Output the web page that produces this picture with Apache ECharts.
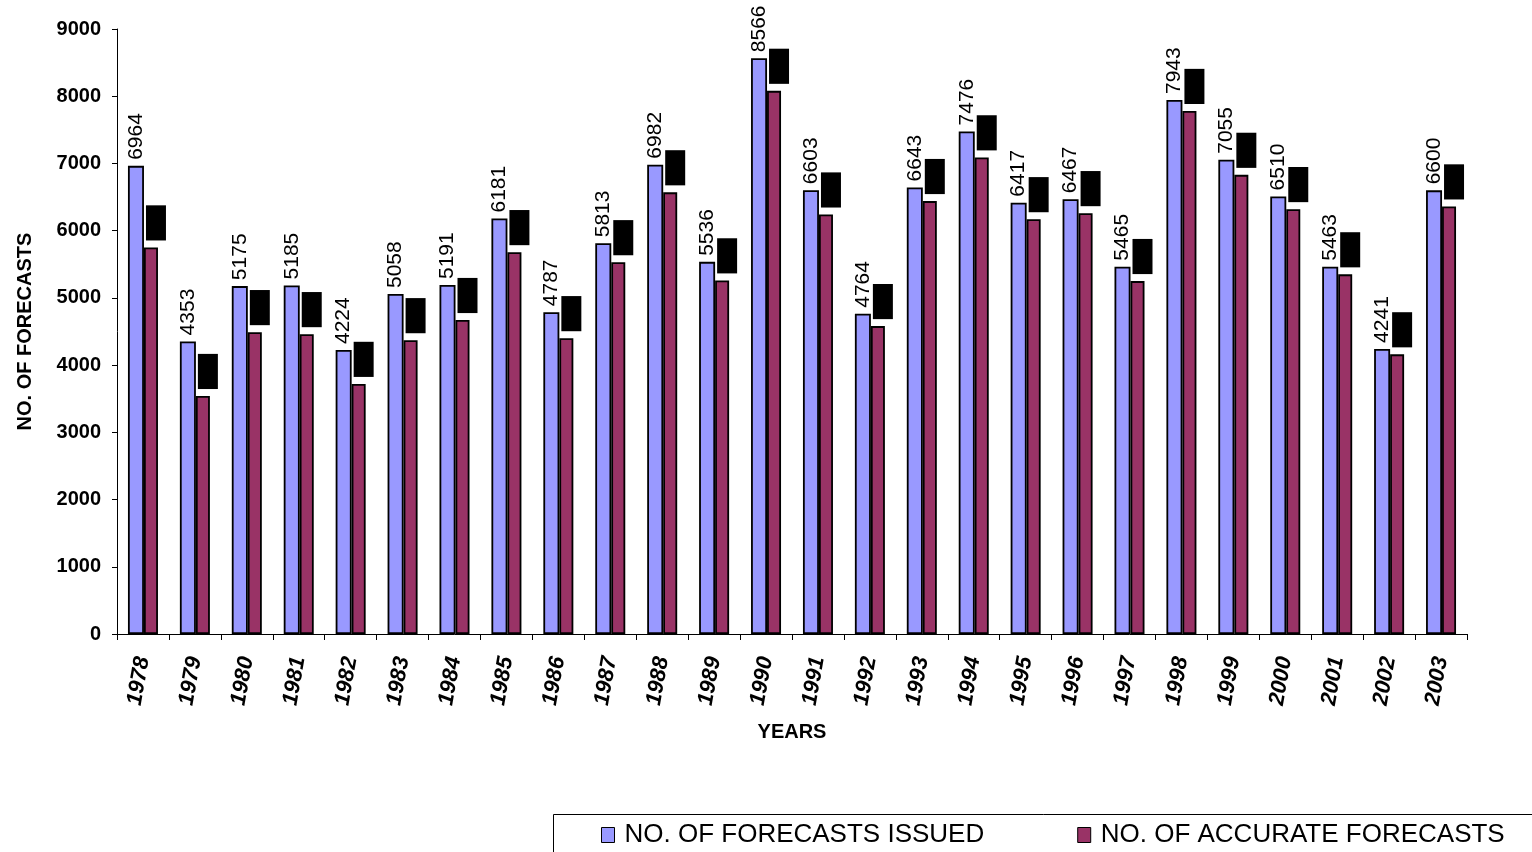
<!DOCTYPE html>
<html>
<head>
<meta charset="utf-8">
<script src="https://cdn.jsdelivr.net/npm/echarts@6/dist/echarts.min.js"></script>
<style>
  html, body { margin: 0; padding: 0; background: #fff; }
  #chart { width: 1532px; height: 852px; }
</style>
</head>
<body>
<div id="chart"></div>
<script>
// Forecast counts per year
const years = ['1978','1979','1980','1981','1982','1983','1984','1985','1986','1987','1988','1989','1990',
               '1991','1992','1993','1994','1995','1996','1997','1998','1999','2000','2001','2002','2003'];
const issued = [6964, 4353, 5175, 5185, 4224, 5058, 5191, 6181, 4787, 5813, 6982, 5536, 8566,
                6603, 4764, 6643, 7476, 6417, 6467, 5465, 7943, 7055, 6510, 5463, 4241, 6600];
const accurate = [5750, 3540, 4490, 4460, 3720, 4370, 4670, 5680, 4400, 5530, 6570, 5260, 8080,
                  6240, 4580, 6440, 7090, 6170, 6260, 5250, 7780, 6830, 6320, 5350, 4160, 6360];
const yTicks = { min: 0, max: 9000, step: 1000 };

const FONT = '"Liberation Sans", Arial, Helvetica, sans-serif';

const chart = echarts.init(document.getElementById('chart'), null, { renderer: 'canvas' });

chart.setOption({
  backgroundColor: '#ffffff',
  animation: false,
  grid: { left: 117, right: 65, top: 29, bottom: 218, containLabel: false },
  legend: {
    left: 596,
    top: 817,
    itemWidth: 13,
    itemHeight: 15,
    itemGap: 93,
    icon: 'rect',
    textStyle: { fontFamily: FONT, fontSize: 26, color: '#000', padding: [0, 0, 0, 5] },
    itemStyle: { borderColor: '#000', borderWidth: 1 },
    data: ['NO. OF FORECASTS ISSUED', 'NO. OF ACCURATE FORECASTS']
  },
  graphic: [{
    type: 'rect',
    shape: { x: 553.5, y: 814.5, width: 1000, height: 60 },
    style: { fill: 'none', stroke: '#000', lineWidth: 1 },
    silent: true
  }],
  xAxis: {
    type: 'category',
    data: years,
    name: 'YEARS',
    nameLocation: 'middle',
    nameGap: 88,
    nameTextStyle: { fontFamily: FONT, fontSize: 20, fontWeight: 'bold', color: '#000' },
    axisLine: { lineStyle: { color: '#000', width: 1 } },
    axisTick: { show: true, length: 6, alignWithLabel: false, lineStyle: { color: '#000' } },
    axisLabel: {
      interval: 0,
      rotate: 80,
      margin: 23,
      padding: [0, 0, 10, 0],
      fontFamily: FONT,
      fontSize: 22,
      fontWeight: 'bold',
      fontStyle: 'italic',
      color: '#000'
    },
    splitLine: { show: false }
  },
  yAxis: {
    type: 'value',
    min: yTicks.min,
    max: yTicks.max,
    interval: yTicks.step,
    name: 'NO. OF FORECASTS',
    nameLocation: 'middle',
    nameGap: 82,
    nameTextStyle: { fontFamily: FONT, fontSize: 20, fontWeight: 'bold', color: '#000' },
    axisLine: { show: true, lineStyle: { color: '#000', width: 1 } },
    axisTick: { show: true, length: 5, lineStyle: { color: '#000' } },
    axisLabel: {
      margin: 16, fontFamily: FONT, fontSize: 20, fontWeight: 'bold', color: '#000',
      formatter: v => String(v)
    },
    splitLine: { show: false }
  },
  series: [
    {
      name: 'NO. OF FORECASTS ISSUED',
      type: 'bar',
      data: issued,
      barWidth: 16,
      barGap: '0%',
      itemStyle: { color: '#9999FF', borderColor: '#000', borderWidth: 1.8 },
      label: {
        show: true,
        position: 'top',
        rotate: 90,
        align: 'left',
        verticalAlign: 'middle',
        distance: 6,
        fontFamily: FONT,
        fontSize: 21,
        color: '#000'
      }
    },
    {
      name: 'NO. OF ACCURATE FORECASTS',
      type: 'bar',
      data: accurate,
      barWidth: 14,
      barGap: '0%',
      itemStyle: { color: '#993366', borderColor: '#000', borderWidth: 1.8 },
      label: {
        show: true,
        position: 'top',
        rotate: 90,
        align: 'left',
        verticalAlign: 'middle',
        distance: 7,
        offset: [0, 5],
        fontFamily: FONT,
        fontSize: 14,
        lineHeight: 20,
        padding: [0, 2],
        color: '#000',
        backgroundColor: '#000'
      }
    }
  ]
});
</script>
</body>
</html>
